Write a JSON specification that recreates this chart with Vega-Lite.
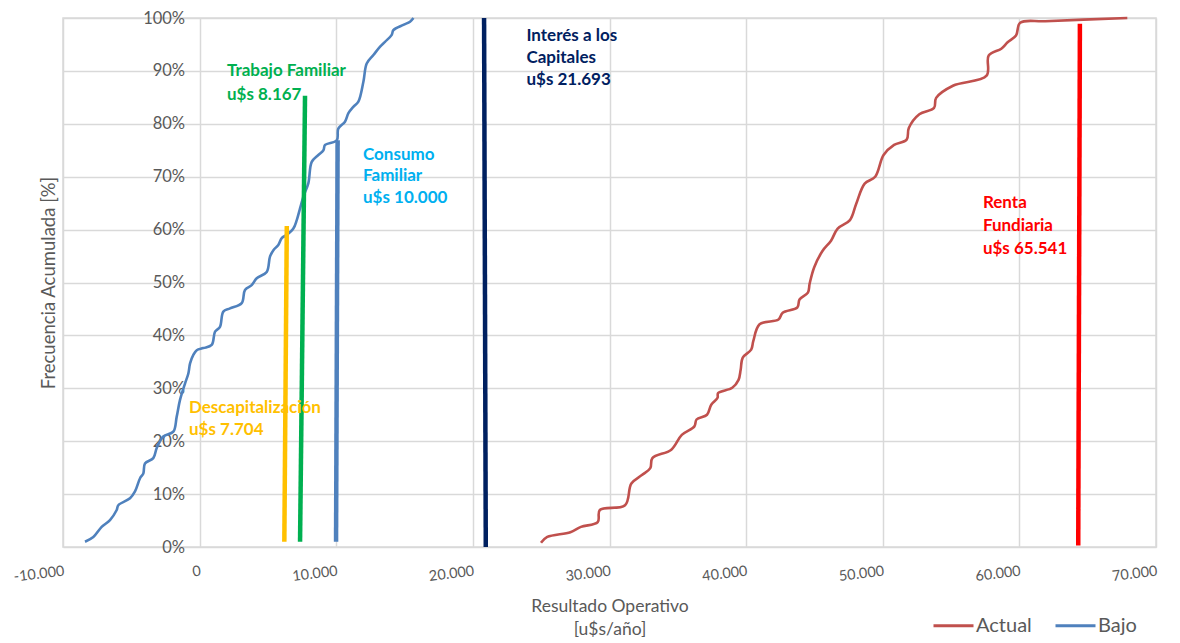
{
  "$schema": "https://vega.github.io/schema/vega-lite/v6.json",
  "width": 1093,
  "height": 529,
  "autosize": {"type": "none"},
  "padding": {"left": 63, "top": 18, "right": 24, "bottom": 96},
  "background": "white",
  "config": {
    "font": "Lato",
    "view": {"stroke": "#d9d9d9", "strokeWidth": 1.5},
    "axis": {
      "gridColor": "#d9d9d9",
      "gridWidth": 1.5,
      "domain": false,
      "ticks": false,
      "labelColor": "#595959",
      "titleColor": "#595959",
      "labelFont": "Lato",
      "titleFont": "Lato",
      "titleFontWeight": "normal"
    }
  },
  "datasets": {
    "curves": [
      {"serie": "Bajo", "x": -8390, "y": 1.0},
      {"serie": "Bajo", "x": -7780, "y": 1.9},
      {"serie": "Bajo", "x": -7170, "y": 3.8},
      {"serie": "Bajo", "x": -6560, "y": 5.1},
      {"serie": "Bajo", "x": -6070, "y": 7.0},
      {"serie": "Bajo", "x": -5950, "y": 7.9},
      {"serie": "Bajo", "x": -5095, "y": 9.2},
      {"serie": "Bajo", "x": -4730, "y": 10.5},
      {"serie": "Bajo", "x": -4360, "y": 13.0},
      {"serie": "Bajo", "x": -4120, "y": 13.9},
      {"serie": "Bajo", "x": -4000, "y": 15.8},
      {"serie": "Bajo", "x": -3390, "y": 16.8},
      {"serie": "Bajo", "x": -3140, "y": 18.7},
      {"serie": "Bajo", "x": -2660, "y": 20.9},
      {"serie": "Bajo", "x": -1925, "y": 21.8},
      {"serie": "Bajo", "x": -1680, "y": 24.6},
      {"serie": "Bajo", "x": -1435, "y": 27.8},
      {"serie": "Bajo", "x": -1070, "y": 30.9},
      {"serie": "Bajo", "x": -825, "y": 32.8},
      {"serie": "Bajo", "x": -700, "y": 34.7},
      {"serie": "Bajo", "x": -460, "y": 36.3},
      {"serie": "Bajo", "x": -210, "y": 37.2},
      {"serie": "Bajo", "x": 270, "y": 37.6},
      {"serie": "Bajo", "x": 885, "y": 38.2},
      {"serie": "Bajo", "x": 1130, "y": 40.7},
      {"serie": "Bajo", "x": 1490, "y": 41.6},
      {"serie": "Bajo", "x": 1735, "y": 44.5},
      {"serie": "Bajo", "x": 2225, "y": 45.1},
      {"serie": "Bajo", "x": 3080, "y": 46.1},
      {"serie": "Bajo", "x": 3320, "y": 48.6},
      {"serie": "Bajo", "x": 3810, "y": 49.5},
      {"serie": "Bajo", "x": 4180, "y": 50.8},
      {"serie": "Bajo", "x": 4910, "y": 52.0},
      {"serie": "Bajo", "x": 5150, "y": 54.9},
      {"serie": "Bajo", "x": 5400, "y": 56.1},
      {"serie": "Bajo", "x": 5760, "y": 57.1},
      {"serie": "Bajo", "x": 6010, "y": 58.4},
      {"serie": "Bajo", "x": 6375, "y": 59.0},
      {"serie": "Bajo", "x": 6860, "y": 60.2},
      {"serie": "Bajo", "x": 7110, "y": 61.8},
      {"serie": "Bajo", "x": 7350, "y": 64.0},
      {"serie": "Bajo", "x": 7590, "y": 66.2},
      {"serie": "Bajo", "x": 7960, "y": 68.8},
      {"serie": "Bajo", "x": 8205, "y": 72.8},
      {"serie": "Bajo", "x": 8690, "y": 74.1},
      {"serie": "Bajo", "x": 9060, "y": 75.0},
      {"serie": "Bajo", "x": 9180, "y": 76.0},
      {"serie": "Bajo", "x": 10040, "y": 76.9},
      {"serie": "Bajo", "x": 10150, "y": 79.1},
      {"serie": "Bajo", "x": 10640, "y": 80.4},
      {"serie": "Bajo", "x": 10890, "y": 82.0},
      {"serie": "Bajo", "x": 11250, "y": 83.2},
      {"serie": "Bajo", "x": 11620, "y": 84.2},
      {"serie": "Bajo", "x": 11990, "y": 88.0},
      {"serie": "Bajo", "x": 12230, "y": 91.4},
      {"serie": "Bajo", "x": 12720, "y": 93.0},
      {"serie": "Bajo", "x": 13210, "y": 94.6},
      {"serie": "Bajo", "x": 13570, "y": 95.5},
      {"serie": "Bajo", "x": 14060, "y": 96.8},
      {"serie": "Bajo", "x": 14180, "y": 97.7},
      {"serie": "Bajo", "x": 14910, "y": 98.7},
      {"serie": "Bajo", "x": 15400, "y": 99.3},
      {"serie": "Bajo", "x": 15650, "y": 100},
      {"serie": "Actual", "x": 24985, "y": 0.8},
      {"serie": "Actual", "x": 25446, "y": 1.9},
      {"serie": "Actual", "x": 27138, "y": 2.8},
      {"serie": "Actual", "x": 27908, "y": 3.8},
      {"serie": "Actual", "x": 29138, "y": 4.7},
      {"serie": "Actual", "x": 29292, "y": 7.0},
      {"serie": "Actual", "x": 31138, "y": 7.9},
      {"serie": "Actual", "x": 31600, "y": 12.0},
      {"serie": "Actual", "x": 32370, "y": 13.6},
      {"serie": "Actual", "x": 32985, "y": 14.9},
      {"serie": "Actual", "x": 33138, "y": 16.8},
      {"serie": "Actual", "x": 34523, "y": 18.4},
      {"serie": "Actual", "x": 35292, "y": 21.2},
      {"serie": "Actual", "x": 36215, "y": 22.8},
      {"serie": "Actual", "x": 36370, "y": 24.1},
      {"serie": "Actual", "x": 37138, "y": 25.0},
      {"serie": "Actual", "x": 37446, "y": 26.9},
      {"serie": "Actual", "x": 37908, "y": 28.2},
      {"serie": "Actual", "x": 37950, "y": 29.1},
      {"serie": "Actual", "x": 38985, "y": 30.1},
      {"serie": "Actual", "x": 39446, "y": 31.6},
      {"serie": "Actual", "x": 39600, "y": 33.5},
      {"serie": "Actual", "x": 39754, "y": 35.8},
      {"serie": "Actual", "x": 40370, "y": 37.3},
      {"serie": "Actual", "x": 40523, "y": 38.9},
      {"serie": "Actual", "x": 40985, "y": 42.1},
      {"serie": "Actual", "x": 42370, "y": 43.0},
      {"serie": "Actual", "x": 42677, "y": 44.3},
      {"serie": "Actual", "x": 43754, "y": 45.3},
      {"serie": "Actual", "x": 43908, "y": 46.8},
      {"serie": "Actual", "x": 44523, "y": 48.1},
      {"serie": "Actual", "x": 44650, "y": 49.8},
      {"serie": "Actual", "x": 44985, "y": 52.9},
      {"serie": "Actual", "x": 45600, "y": 56.0},
      {"serie": "Actual", "x": 46215, "y": 57.9},
      {"serie": "Actual", "x": 46700, "y": 60.2},
      {"serie": "Actual", "x": 47600, "y": 61.8},
      {"serie": "Actual", "x": 48060, "y": 64.9},
      {"serie": "Actual", "x": 48677, "y": 68.7},
      {"serie": "Actual", "x": 49446, "y": 70.0},
      {"serie": "Actual", "x": 50060, "y": 74.1},
      {"serie": "Actual", "x": 50830, "y": 76.0},
      {"serie": "Actual", "x": 51750, "y": 77.0},
      {"serie": "Actual", "x": 51908, "y": 79.2},
      {"serie": "Actual", "x": 52677, "y": 81.8},
      {"serie": "Actual", "x": 53754, "y": 83.0},
      {"serie": "Actual", "x": 53908, "y": 84.9},
      {"serie": "Actual", "x": 55138, "y": 87.2},
      {"serie": "Actual", "x": 57600, "y": 89.1},
      {"serie": "Actual", "x": 57754, "y": 92.9},
      {"serie": "Actual", "x": 58677, "y": 94.2},
      {"serie": "Actual", "x": 59138, "y": 95.4},
      {"serie": "Actual", "x": 59754, "y": 96.7},
      {"serie": "Actual", "x": 60060, "y": 99.1},
      {"serie": "Actual", "x": 61900, "y": 99.4},
      {"serie": "Actual", "x": 67900, "y": 100}
    ],
    "refs": [
      {"ref": "Descapitalización", "x": 6200, "y": 1.0},
      {"ref": "Descapitalización", "x": 6380, "y": 60.7},
      {"ref": "Trabajo Familiar", "x": 7350, "y": 1.0},
      {"ref": "Trabajo Familiar", "x": 7715, "y": 85.3},
      {"ref": "Consumo Familiar", "x": 9985, "y": 1.0},
      {"ref": "Consumo Familiar", "x": 10100, "y": 76.9},
      {"ref": "Interés a los Capitales", "x": 20945, "y": 0},
      {"ref": "Interés a los Capitales", "x": 20820, "y": 100},
      {"ref": "Renta Fundiaria", "x": 64308, "y": 0.3},
      {"ref": "Renta Fundiaria", "x": 64430, "y": 98.9}
    ],
    "labels": [
      {"ref": "Trabajo Familiar", "text": "Trabajo Familiar", "x": 2000, "y": 90.0},
      {"ref": "Trabajo Familiar", "text": "u$s 8.167", "x": 2000, "y": 85.4},
      {"ref": "Consumo Familiar", "text": "Consumo", "x": 11960, "y": 74.1},
      {"ref": "Consumo Familiar", "text": "Familiar", "x": 11960, "y": 70.1},
      {"ref": "Consumo Familiar", "text": "u$s 10.000", "x": 11960, "y": 66.0},
      {"ref": "Interés a los Capitales", "text": "Interés a los", "x": 23920, "y": 96.6},
      {"ref": "Interés a los Capitales", "text": "Capitales", "x": 23920, "y": 92.4},
      {"ref": "Interés a los Capitales", "text": "u$s 21.693", "x": 23920, "y": 88.3},
      {"ref": "Renta Fundiaria", "text": "Renta", "x": 57330, "y": 65.0},
      {"ref": "Renta Fundiaria", "text": "Fundiaria", "x": 57330, "y": 60.7},
      {"ref": "Renta Fundiaria", "text": "u$s 65.541", "x": 57330, "y": 56.3},
      {"ref": "Descapitalización", "text": "Descapitalización", "x": -780, "y": 26.3},
      {"ref": "Descapitalización", "text": "u$s 7.704", "x": -780, "y": 22.1}
    ]
  },
  "encoding": {
    "x": {
      "field": "x",
      "type": "quantitative",
      "scale": {"domain": [-10000, 70000], "nice": false, "zero": false},
      "axis": {
        "values": [-10000, 0, 10000, 20000, 30000, 40000, 50000, 60000, 70000],
        "labelExpr": "replace(replace(format(datum.value, ','), ',', '.'), '−', '-')",
        "labelAngle": -7,
        "labelAlign": "right",
        "labelBaseline": "top",
        "labelPadding": 17,
        "labelFontSize": 14.5,
        "labelFlush": false,
        "labelOverlap": false,
        "labelBound": false,
        "grid": true,
        "title": ["Resultado Operativo", "[u$s/año]"],
        "titleFontSize": 17.5,
        "titleLineHeight": 23,
        "titleBaseline": "top",
        "titleY": 50
      }
    },
    "y": {
      "field": "y",
      "type": "quantitative",
      "scale": {"domain": [0, 100], "nice": false},
      "axis": {
        "values": [0, 10, 20, 30, 40, 50, 60, 70, 80, 90, 100],
        "labelExpr": "datum.value + '%'",
        "offset": -136.6,
        "labelPadding": 15,
        "labelFontSize": 16.5,
        "labelFlush": false,
        "labelOverlap": false,
        "grid": true,
        "title": "Frecuencia Acumulada [%]",
        "titleFontSize": 18.5,
        "titleX": -151.6,
        "titleBaseline": "middle",
        "titleAngle": -90
      }
    }
  },
  "layer": [
    {
      "data": {"name": "curves"},
      "mark": {"type": "line", "strokeWidth": 2.6, "interpolate": "catmull-rom"},
      "encoding": {
        "color": {
          "field": "serie",
          "type": "nominal",
          "scale": {
            "domain": ["Actual", "Bajo", "Descapitalización", "Trabajo Familiar", "Consumo Familiar", "Interés a los Capitales", "Renta Fundiaria"],
            "range": ["#C0504D", "#4F81BD", "#FFC000", "#00B050", "#4F81BD", "#002060", "#FF0000"]
          },
          "legend": {
            "values": ["Actual", "Bajo"],
            "orient": "none",
            "legendX": 869,
            "legendY": 586,
            "direction": "horizontal",
            "title": null,
            "symbolType": "stroke",
            "symbolSize": 1600,
            "symbolStrokeWidth": 3,
            "labelFontSize": 20,
            "labelColor": "#595959",
            "labelOffset": 1,
            "columnPadding": 17,
            "padding": 0
          }
        },
        "order": {"field": "y", "type": "quantitative"}
      }
    },
    {
      "data": {"name": "refs"},
      "mark": {"type": "line", "strokeWidth": 4.5, "strokeCap": "butt"},
      "encoding": {
        "color": {"field": "ref", "type": "nominal"},
        "order": {"field": "y", "type": "quantitative"}
      }
    },
    {
      "data": {"name": "labels"},
      "mark": {"type": "text", "align": "left", "baseline": "middle", "fontSize": 17, "fontWeight": "bold"},
      "encoding": {
        "text": {"field": "text", "type": "nominal"},
        "fill": {
          "field": "ref",
          "type": "nominal",
          "scale": {
            "domain": ["Descapitalización", "Trabajo Familiar", "Consumo Familiar", "Interés a los Capitales", "Renta Fundiaria"],
            "range": ["#FFC000", "#00B050", "#00B0F0", "#002060", "#FF0000"]
          },
          "legend": null
        }
      }
    }
  ]
}
